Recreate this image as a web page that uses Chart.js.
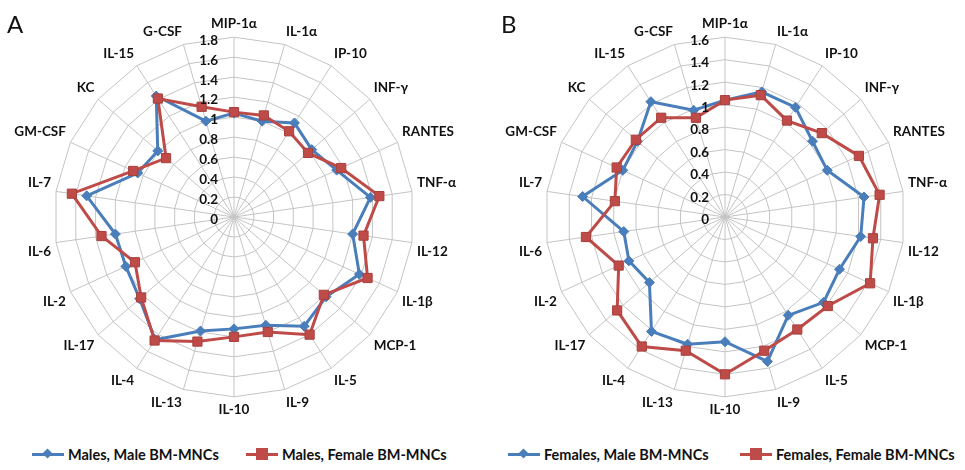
<!DOCTYPE html>
<html>
<head>
<meta charset="utf-8">
<script src="https://cdn.jsdelivr.net/npm/chart.js@4"></script>
<style>
  body { margin: 0; background: #fff; font-family: Lato, "Open Sans", sans-serif; }
  #wrap { position: relative; width: 965px; height: 470px; overflow: hidden; }
  .panel { position: absolute; top: 0; width: 472px; height: 437px; }
  .tag { position: absolute; top: 9px; font-size: 24px; color: #111; }
  .legend { position: absolute; top: 446px; font-size: 14.5px; font-weight: bold; color: #111; white-space: nowrap; }
  .item { position: absolute; top: 0; display: flex; align-items: center; }
  .sw { position: relative; width: 32px; height: 3px; margin-right: 4px; }
  .sw i { position: absolute; left: 11px; top: -4px; width: 9px; height: 9px; }
  .sw.blue, .sw.blue i { background: #4a7ebb; }
  .sw.red, .sw.red i { background: #be4b48; }
  .sw.blue i { transform: rotate(45deg) scale(0.8); }
  .sw.red i { left: 10px; top: -5px; width: 12px; height: 12px; }
</style>
</head>
<body>
<div id="wrap">
  <div class="panel" style="left:0px"><canvas id="chartA"></canvas></div>
  <div class="panel" style="left:491px"><canvas id="chartB"></canvas></div>
  <div class="tag" style="left:7px">A</div>
  <div class="tag" style="left:501px">B</div>
  <div class="legend">
    <div class="item" style="left:32px"><span class="sw blue"><i></i></span>Males, Male BM-MNCs</div>
    <div class="item" style="left:246px"><span class="sw red"><i></i></span>Males, Female BM-MNCs</div>
    <div class="item" style="left:508px"><span class="sw blue"><i></i></span>Females, Male BM-MNCs</div>
    <div class="item" style="left:740px"><span class="sw red"><i></i></span>Females, Female BM-MNCs</div>
  </div>
</div>
<script>
const categories = ["MIP-1α", "IL-1α", "IP-10", "INF-γ", "RANTES", "TNF-α", "IL-12", "IL-1β", "MCP-1",
  "IL-5", "IL-9", "IL-10", "IL-13", "IL-4", "IL-17", "IL-2", "IL-6", "IL-7", "GM-CSF", "KC", "IL-15", "G-CSF"];

// panel A: male recipients
const malesMale   = [1.04, 1.00, 1.12, 1.03, 1.13, 1.38, 1.20, 1.38, 1.22, 1.30, 1.13, 1.12, 1.19, 1.46, 1.25, 1.19, 1.20, 1.49, 1.06, 1.01, 1.44, 1.00];
const malesFemale = [1.05, 1.06, 1.02, 0.98, 1.18, 1.47, 1.31, 1.47, 1.19, 1.40, 1.20, 1.20, 1.30, 1.47, 1.23, 1.09, 1.34, 1.64, 1.11, 0.90, 1.41, 1.15];

// panel B: female recipients
const femalesMale   = [1.04, 1.16, 1.16, 1.03, 1.00, 1.25, 1.22, 1.12, 1.16, 1.04, 1.34, 1.11, 1.18, 1.21, 0.89, 0.94, 0.91, 1.28, 1.00, 1.03, 1.22, 0.99];
const femalesFemale = [1.04, 1.13, 1.02, 1.14, 1.31, 1.39, 1.33, 1.42, 1.21, 1.19, 1.24, 1.40, 1.24, 1.37, 1.27, 1.04, 1.25, 0.99, 1.06, 1.05, 1.05, 0.92];

const ticksA = ["0", "0.2", "0.4", "0.6", "0.8", "1", "1.2", "1.4", "1.6", "1.8"];
const ticksB = ["0", "0.2", "0.4", "0.6", "0.8", "1", "1.2", "1.4", "1.6"];

const BLUE = "#4a7ebb";
const RED = "#be4b48";
const FONT = "Lato, 'Open Sans', sans-serif";

// tick labels sit left of the vertical axis, like Excel
const tickLabelPlugin = {
  id: "tickLabels",
  afterDatasetsDraw(chart, args, opts) {
    const s = chart.scales.r;
    const ctx = chart.ctx;
    ctx.save();
    ctx.font = "bold 13.5px " + FONT;
    ctx.fillStyle = "#111";
    ctx.textAlign = "right";
    ctx.textBaseline = "middle";
    opts.labels.forEach(t => {
      const y = s.yCenter - s.getDistanceFromCenterForValue(parseFloat(t));
      ctx.fillText(t, s.xCenter - 16, y + 3);
    });
    ctx.restore();
  }
};

function makeRadar(id, max, ticks, blueName, blueData, redName, redData) {
  return new Chart(document.getElementById(id), {
    type: "radar",
    data: {
      labels: categories,
      datasets: [
        {
          label: blueName, data: blueData, order: 1,
          borderColor: BLUE, backgroundColor: BLUE, borderWidth: 3, fill: false,
          pointStyle: "rectRot", pointRadius: 5, pointBackgroundColor: BLUE, pointBorderColor: BLUE, pointBorderWidth: 1
        },
        {
          label: redName, data: redData, order: 0,
          borderColor: RED, backgroundColor: RED, borderWidth: 3, fill: false,
          pointStyle: "rect", pointRadius: 6.5, pointBackgroundColor: RED, pointBorderColor: "#a8403d", pointBorderWidth: 1
        }
      ]
    },
    options: {
      responsive: true,
      maintainAspectRatio: false,
      animation: false,
      layout: { padding: { top: 16, bottom: 18, left: 0, right: 0 } },
      elements: { line: { tension: 0 } },
      plugins: {
        legend: { display: false },
        tooltip: { enabled: false },
        tickLabels: { labels: ticks }
      },
      scales: {
        r: {
          min: 0, max: max,
          ticks: { display: false, stepSize: 0.2 },
          grid: { color: "#c4c4c4", lineWidth: 1 },
          angleLines: { color: "#c4c4c4", lineWidth: 1 },
          pointLabels: {
            padding: 5,
            color: "#111",
            font: { family: FONT, size: 13.5, weight: "bold" }
          }
        }
      }
    },
    plugins: [tickLabelPlugin]
  });
}

makeRadar("chartA", 1.8, ticksA, "Males, Male BM-MNCs", malesMale, "Males, Female BM-MNCs", malesFemale);
makeRadar("chartB", 1.6, ticksB, "Females, Male BM-MNCs", femalesMale, "Females, Female BM-MNCs", femalesFemale);
</script>
</body>
</html>
